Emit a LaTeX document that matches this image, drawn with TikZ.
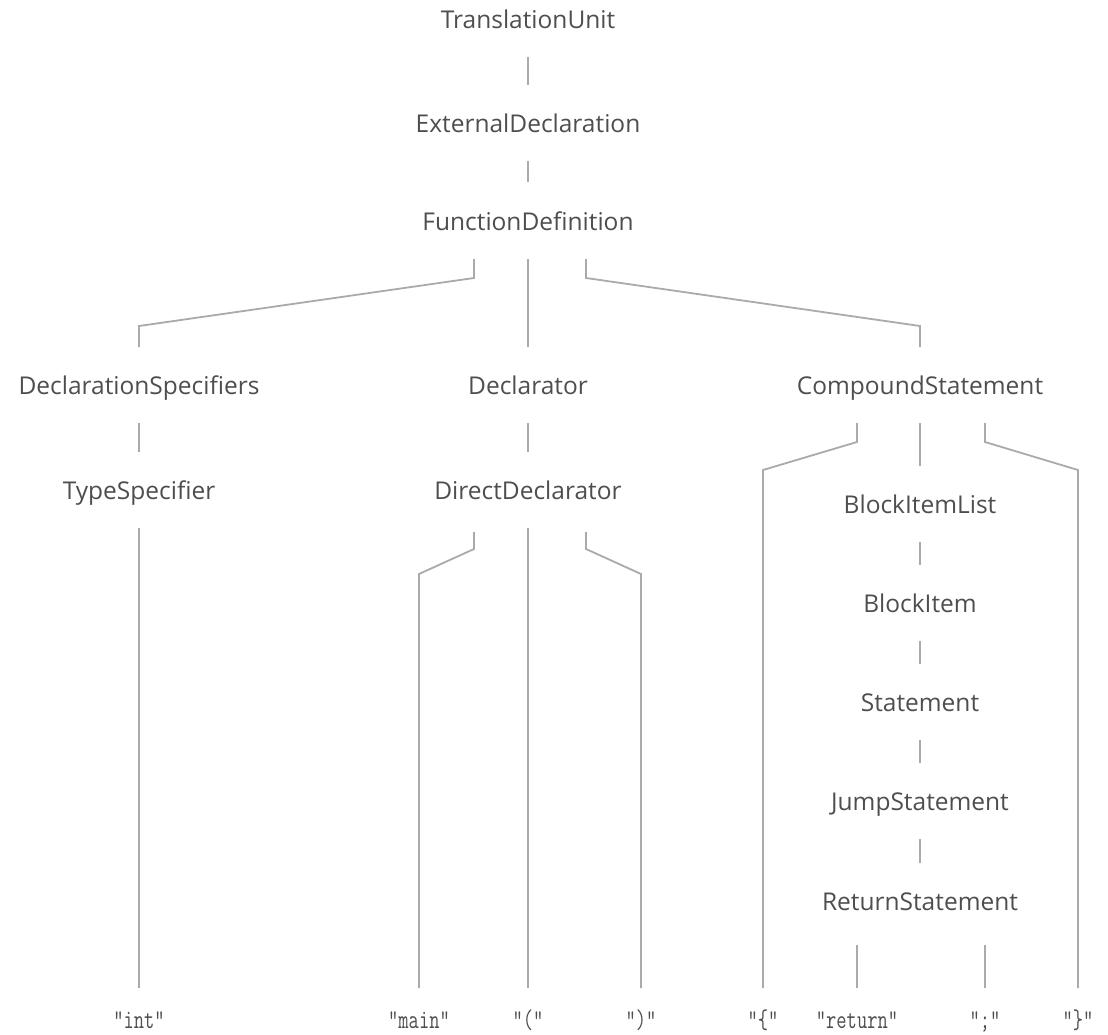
\documentclass[tikz,border=0pt]{standalone}
\usepackage{fontspec}
\setmainfont{Open Sans}
\newfontfamily\tokenfont[FakeStretch=0.74]{Latin Modern Mono}
\usetikzlibrary{calc}
\definecolor{labelgray}{RGB}{78,78,78}
\definecolor{linkgray}{RGB}{170,170,170}

\begin{document}
\begin{tikzpicture}[
    x=1pt, y=1pt,
    rule/.style={font=\fontsize{24.5}{28}\selectfont, text=labelgray, inner sep=0pt, text height=18pt, text depth=4pt},
    token/.style={font=\tokenfont\fontsize{27}{30}\selectfont, text=labelgray, inner sep=0pt, anchor=base},
    link/.style={draw=linkgray, line width=1.8pt}
]
\useasboundingbox (0,0) rectangle (1108,-1035);

% Grammar rules
\node[rule] (tu) at (528,-22) {TranslationUnit};
\node[rule] (ed) at (528,-126) {ExternalDeclaration};
\node[rule] (fd) at (528,-223) {FunctionDefinition};
\node[rule] (ds) at (139,-387) {DeclarationSpecifiers};
\node[rule] (dc) at (528,-387) {Declarator};
\node[rule] (cs) at (920,-387) {CompoundStatement};
\node[rule] (ts) at (139,-492) {TypeSpecifier};
\node[rule] (dd) at (528,-492) {DirectDeclarator};
\node[rule] (bil) at (920,-506) {BlockItemList};
\node[rule] (bi) at (920,-605) {BlockItem};
\node[rule] (st) at (920,-704) {Statement};
\node[rule] (js) at (920,-803) {JumpStatement};
\node[rule] (rs) at (920,-903) {ReturnStatement};

% Tokens
\node[token] (int) at (139,-1028) {"int"};
\node[token] (main) at (419,-1028) {"main"};
\node[token] (lparen) at (528,-1028) {"("};
\node[token] (rparen) at (641,-1028) {")"};
\node[token] (lbrace) at (763,-1028) {"\{"};
\node[token] (ret) at (857,-1028) {"return"};
\node[token] (semi) at (985,-1028) {";"};
\node[token] (rbrace) at (1078,-1028) {"\}"};

% Single children
\draw[link] ([yshift=-35pt]tu.center) -- ([yshift=41pt]ed.center);
\draw[link] ([yshift=-35pt]ed.center) -- ([yshift=41pt]fd.center);
\draw[link] ([yshift=-36pt]ds.center) -- ([yshift=40pt]ts.center);
\draw[link] ([yshift=-36pt]dc.center) -- ([yshift=40pt]dd.center);
\draw[link] ([yshift=-36pt]bil.center) -- ([yshift=40pt]bi.center);
\draw[link] ([yshift=-36pt]bi.center) -- ([yshift=40pt]st.center);
\draw[link] ([yshift=-36pt]st.center) -- ([yshift=40pt]js.center);
\draw[link] ([yshift=-36pt]js.center) -- ([yshift=40pt]rs.center);

% FunctionDefinition
\draw[link] ([xshift=-54pt,yshift=-36pt]fd.center) -- ++(0,-19) -- ([yshift=61pt]ds.center) -- ([yshift=40pt]ds.center);
\draw[link] ([yshift=-36pt]fd.center) -- ([yshift=40pt]dc.center);
\draw[link] ([xshift=58pt,yshift=-36pt]fd.center) -- ++(0,-19) -- ([yshift=61pt]cs.center) -- ([yshift=40pt]cs.center);

% CompoundStatement
\draw[link] ([xshift=-63pt,yshift=-36pt]cs.center) -- ++(0,-19) -- ($(lbrace.base |- cs.center)+(0,-83)$) -- ([yshift=40pt]lbrace.base);
\draw[link] ([yshift=-36pt]cs.center) -- ([yshift=40pt]bil.center);
\draw[link] ([xshift=65pt,yshift=-36pt]cs.center) -- ++(0,-19) -- ($(rbrace.base |- cs.center)+(0,-83)$) -- ([yshift=40pt]rbrace.base);

% Leaves
\draw[link] ([yshift=-36pt]ts.center) -- ([yshift=40pt]int.base);
\draw[link] ([xshift=-54pt,yshift=-40pt]dd.center) -- ++(0,-17) -- ($(main.base |- dd.center)+(0,-82)$) -- ([yshift=40pt]main.base);
\draw[link] ([yshift=-36pt]dd.center) -- ([yshift=40pt]lparen.base);
\draw[link] ([xshift=58pt,yshift=-40pt]dd.center) -- ++(0,-17) -- ($(rparen.base |- dd.center)+(0,-82)$) -- ([yshift=40pt]rparen.base);
\draw[link] ($(ret.base |- rs.center)+(0,-42)$) -- ([yshift=40pt]ret.base);
\draw[link] ($(semi.base |- rs.center)+(0,-42)$) -- ([yshift=40pt]semi.base);

\end{tikzpicture}
\end{document}
